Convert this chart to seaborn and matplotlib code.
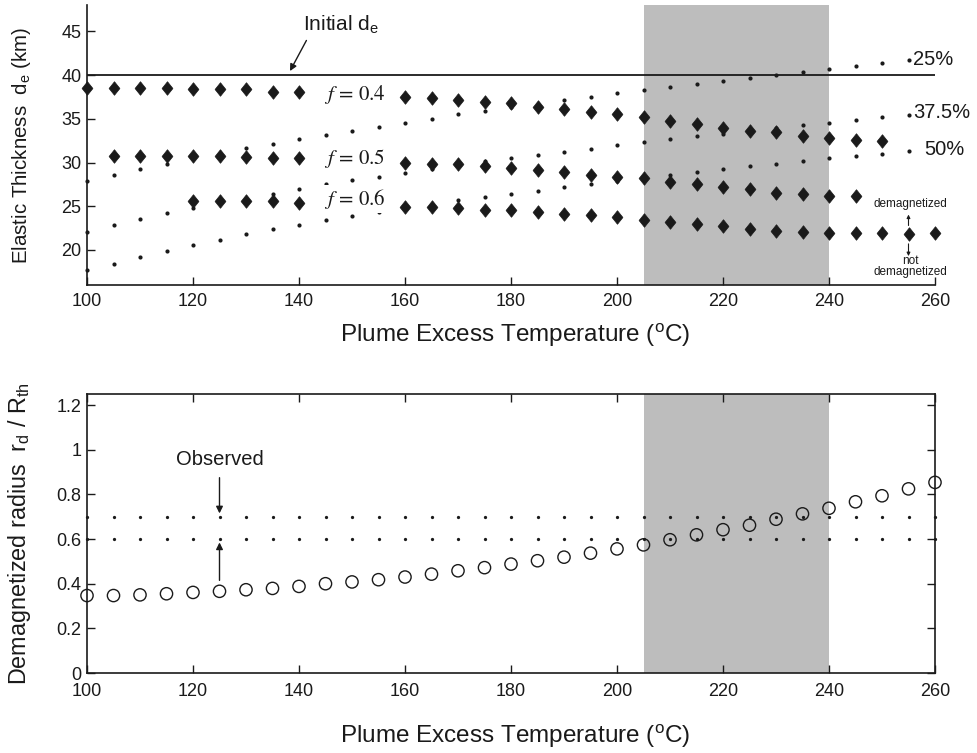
import numpy as np
import pandas as pd
import matplotlib
matplotlib.use("Agg")
import matplotlib.pyplot as plt
from matplotlib.path import Path
import seaborn as sns

nan = np.nan

# Plume excess temperature (deg C)
temps = list(range(100, 265, 5))

# Elastic thickness at the demagnetization boundary for each f
de_f04 = [38.55, 38.55, 38.55, 38.55, 38.35, 38.35, 38.35, 38.1, 38.1, nan, nan, nan,
          37.5, 37.4, 37.2, 36.95, 36.75, 36.35, 36.15, 35.8, 35.6, 35.2, 34.8, 34.4,
          34.0, 33.6, 33.45, 33.0, 32.75, 32.6, 32.5, nan, nan]
de_f05 = [nan, 30.7, 30.7, 30.7, 30.7, 30.7, 30.6, 30.55, 30.55, nan, nan, nan,
          30.0, 29.85, 29.8, 29.6, 29.4, 29.2, 28.9, 28.55, 28.35, 28.2, 27.8, 27.6,
          27.2, 27.0, 26.5, 26.35, 26.15, 26.15, nan, nan, nan]
de_f06 = [nan, nan, nan, nan, 25.55, 25.55, 25.55, 25.55, 25.35, nan, nan, nan,
          24.95, 24.95, 24.8, 24.6, 24.55, 24.35, 24.15, 23.95, 23.8, 23.4, 23.2, 23.0,
          22.8, 22.4, 22.2, 22.05, 21.9, 21.9, 21.9, 21.85, 21.95]

# Thinned elastic thickness for 25 %, 37.5 % and 50 % reduction curves
de_25 = [27.9, 28.6, 29.25, 29.85, 30.45, 31.05, 31.65, 32.15, 32.65, 33.2, 33.6, 34.1,
         34.5, 35.0, 35.5, 35.9, 36.3, 36.7, 37.1, 37.5, 37.9, 38.25, 38.6, 39.0,
         39.35, 39.7, 40.05, 40.35, 40.65, 41.0, 41.35, 41.7, nan]
de_375 = [22.1, 22.9, 23.55, 24.2, 24.8, 25.35, 25.9, 26.45, 26.95, 27.6, 27.95, 28.4,
          28.85, 29.3, 29.75, 30.15, 30.55, 30.9, 31.25, 31.6, 31.95, 32.3, 32.65, 33.0,
          33.3, 33.65, 33.95, 34.25, 34.55, 34.9, 35.15, 35.45, nan]
de_50 = [17.7, 18.45, 19.2, 19.9, 20.55, 21.2, 21.8, 22.35, 22.9, 23.4, 23.9, 24.3,
         24.8, 25.25, 25.7, 26.05, 26.45, 26.8, 27.2, 27.6, 27.9, 28.25, 28.6, 28.9,
         29.25, 29.55, 29.85, 30.15, 30.5, 30.8, 31.0, 31.35, nan]

initial_de = 40.0

# Demagnetized radius ratio
rd_ratio = [0.347, 0.347, 0.35, 0.355, 0.361, 0.366, 0.373, 0.379, 0.388, 0.4, 0.408, 0.418,
            0.43, 0.443, 0.458, 0.472, 0.488, 0.503, 0.519, 0.537, 0.556, 0.574, 0.597, 0.619,
            0.642, 0.662, 0.689, 0.713, 0.738, 0.767, 0.794, 0.825, 0.854]
observed_low = 0.6
observed_high = 0.7

plausible_range = (205, 240)

x_ticks = [100, 120, 140, 160, 180, 200, 220, 240, 260]
top_y_ticks = [20, 25, 30, 35, 40, 45]
bottom_y_ticks = [0, 0.2, 0.4, 0.6, 0.8, 1.0, 1.2]
bottom_y_labels = ["0", "0.2", "0.4", "0.6", "0.8", "1", "1.2"]

sns.set_theme(style="white")
plt.rcParams["font.family"] = ["Liberation Sans", "DejaVu Sans"]
plt.rcParams["mathtext.fontset"] = "custom"
plt.rcParams["mathtext.rm"] = "Liberation Sans"
plt.rcParams["mathtext.it"] = "Liberation Sans:italic"
plt.rcParams["mathtext.default"] = "rm"

ink = "#1a1a1a"
gray = "#bdbdbd"
tick_fs = 13
arrow_kw = dict(arrowstyle="-|>", color=ink, lw=1, mutation_scale=10, shrinkA=0, shrinkB=0)
small_arrow_kw = dict(arrowstyle="-|>", color=ink, lw=0.8, mutation_scale=5,
                      shrinkA=0, shrinkB=0)

fig = plt.figure(figsize=(9.77, 7.53), dpi=100)
ax1 = fig.add_axes([87 / 977, 1 - 285 / 753, 848 / 977, 280 / 753])
ax2 = fig.add_axes([87 / 977, 1 - 673 / 753, 848 / 977, 279 / 753])

diamond = Path([(0, 1), (0.8, 0), (0, -1), (-0.8, 0), (0, 1)],
               [Path.MOVETO, Path.LINETO, Path.LINETO, Path.LINETO, Path.CLOSEPOLY])

df = pd.DataFrame({"T": temps, "f04": de_f04, "f05": de_f05, "f06": de_f06,
                   "p25": de_25, "p375": de_375, "p50": de_50, "rd": rd_ratio})

# ---------------- top panel: elastic thickness ----------------
ax1.axvspan(*plausible_range, color=gray, lw=0, zorder=0)
ax1.plot([100, 260], [initial_de, initial_de], color=ink, lw=1.3, zorder=1.5)

for col in ["p25", "p375", "p50"]:
    sns.scatterplot(data=df, x="T", y=col, ax=ax1, marker="o", s=9, color=ink,
                    edgecolor=ink, linewidth=0, zorder=2, clip_on=False, legend=False)
for col in ["f04", "f05", "f06"]:
    sns.scatterplot(data=df, x="T", y=col, ax=ax1, marker=diamond, s=95, color=ink,
                    edgecolor=ink, linewidth=0.5, zorder=3, clip_on=False, legend=False)

ax1.set_xlim(100, 260)
ax1.set_ylim(16, 48)
ax1.set_xticks(x_ticks)
ax1.set_yticks(top_y_ticks)
for s in ["top", "right"]:
    ax1.spines[s].set_visible(False)
for s in ["left", "bottom"]:
    ax1.spines[s].set_color(ink)
    ax1.spines[s].set_linewidth(1.2)
ax1.tick_params(direction="in", length=6, width=1, colors=ink, labelsize=tick_fs,
                pad=6, bottom=True, left=True)
ax1.tick_params(axis="y", pad=4)
ax1.set_xlabel(r"Plume Excess Temperature ($^{\mathrm{o}}$C)", fontsize=17.5, color=ink)
ax1.xaxis.set_label_coords(0.505, -0.13)
ax1.set_ylabel(r"Elastic Thickness  d$_{\mathrm{e}}$ (km)", fontsize=14.8, color=ink)
ax1.yaxis.set_label_coords(-0.064, 0.5)

flabel = dict(fontsize=15, color=ink, ha="left", va="center", math_fontfamily="stix",
              zorder=4, bbox=dict(facecolor="white", edgecolor="none", pad=1.5))
ax1.text(144.8, 37.75, r"$\mathit{f}\,=\,0.4$", **flabel)
ax1.text(144.8, 30.5, r"$\mathit{f}\,=\,0.5$", **flabel)
ax1.text(144.8, 25.8, r"$\mathit{f}\,=\,0.6$", **flabel)

ax1.text(140.7, 45.7, r"Initial d$_{\mathrm{e}}$", fontsize=15, color=ink,
         ha="left", va="center")
ax1.annotate("", xy=(138.3, 40.45), xytext=(141.4, 43.95), arrowprops=arrow_kw)

for txt, yv, xv in [("25%", 41.8, 255.9), ("37.5%", 35.75, 255.9), ("50%", 31.45, 257.9)]:
    ax1.text(xv, yv, txt, fontsize=14.5, color=ink, ha="left", va="center", clip_on=False)

ax1.text(255.3, 25.2, "demagnetized", fontsize=8.5, color=ink, ha="center", va="center")
ax1.annotate("", xy=(255, 24.05), xytext=(255, 22.8), arrowprops=small_arrow_kw)
ax1.annotate("", xy=(255, 19.3), xytext=(255, 20.7), arrowprops=small_arrow_kw)
ax1.text(255.3, 18.1, "not\ndemagnetized", fontsize=8.5, color=ink, ha="center",
         va="center", linespacing=0.95)

# ---------------- bottom panel: demagnetized radius ----------------
ax2.axvspan(*plausible_range, color=gray, lw=0, zorder=0)
df["obs_lo"] = observed_low
df["obs_hi"] = observed_high
for col in ["obs_lo", "obs_hi"]:
    sns.scatterplot(data=df, x="T", y=col, ax=ax2, marker="o", s=5.5, color=ink,
                    edgecolor=ink, linewidth=0, zorder=2, clip_on=False, legend=False)
sns.scatterplot(data=df, x="T", y="rd", ax=ax2, marker="o", s=78, facecolors="none",
                edgecolor=ink, linewidth=1.0, zorder=3, clip_on=False, legend=False)

ax2.set_xlim(100, 260)
ax2.set_ylim(0, 1.25)
ax2.set_xticks(x_ticks)
ax2.set_yticks(bottom_y_ticks)
ax2.set_yticklabels(bottom_y_labels)
for s in ax2.spines.values():
    s.set_color(ink)
    s.set_linewidth(1.2)
ax2.tick_params(direction="in", length=6, width=1, colors=ink, labelsize=tick_fs,
                pad=4, bottom=True, left=True, top=True, right=True)
ax2.tick_params(axis="x", pad=7)
ax2.set_xlabel(r"Plume Excess Temperature ($^{\mathrm{o}}$C)", fontsize=17.5, color=ink)
ax2.xaxis.set_label_coords(0.505, -0.18)
ax2.set_ylabel(r"Demagnetized radius  r$_{\mathrm{d}}$ / R$_{\mathrm{th}}$",
               fontsize=16.8, color=ink)
ax2.yaxis.set_label_coords(-0.064, 0.5)

ax2.text(125, 0.955, "Observed", fontsize=14.5, color=ink, ha="center", va="center")
ax2.annotate("", xy=(125, 0.715), xytext=(125, 0.875), arrowprops=arrow_kw)
ax2.annotate("", xy=(125, 0.585), xytext=(125, 0.415), arrowprops=arrow_kw)

fig.savefig("out.png", dpi=100)
